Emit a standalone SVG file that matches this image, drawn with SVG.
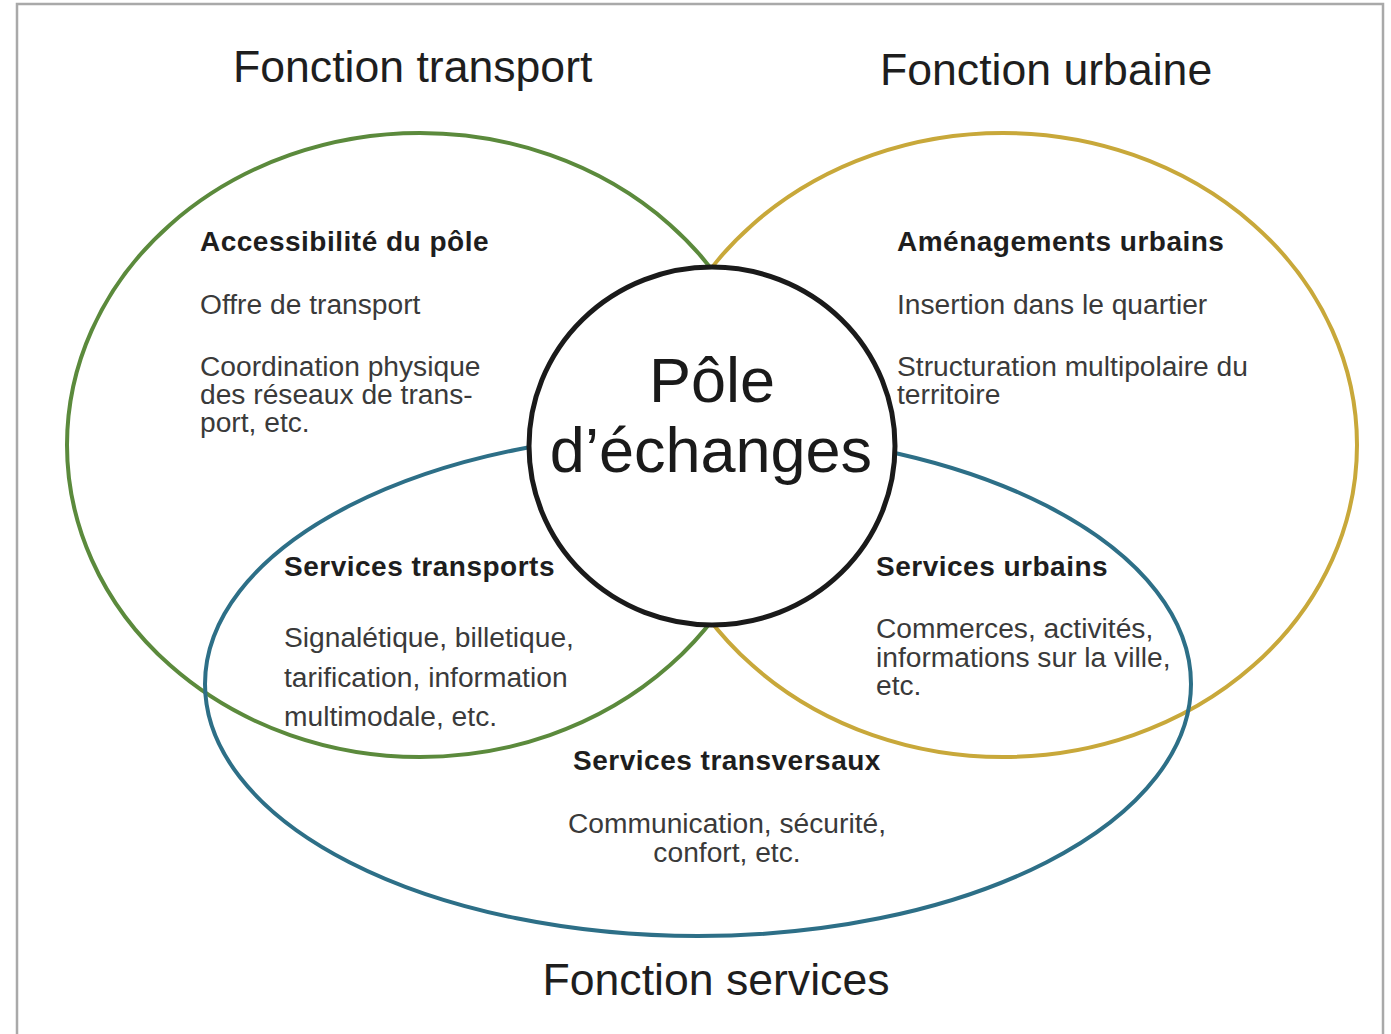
<svg xmlns="http://www.w3.org/2000/svg" width="1391" height="1034" viewBox="0 0 1391 1034">
  <style>
    .frame { fill: #ffffff; stroke: #a9a9a9; stroke-width: 2.5; }
    .set { fill: none; stroke-width: 4; }
    .green { stroke: #5b8a3c; }
    .gold { stroke: #c8a83a; }
    .blue { stroke: #2d6f87; }
    .title { font-family: "Liberation Sans", Arial, sans-serif; font-size: 44.6px; fill: #1e1e1e; }
    .head { font-family: "Liberation Sans", Arial, sans-serif; font-size: 28px; font-weight: bold; fill: #1e1e1e; letter-spacing: 0.5px; }
    .body { font-family: "Liberation Sans", Arial, sans-serif; font-size: 28.2px; fill: #3a3a3a; }
    .pole { font-family: "Liberation Sans", Arial, sans-serif; font-size: 63px; fill: #1a1a1a; }
  </style>
  <rect class="frame" x="17" y="4" width="1366" height="1100"/>

  <g id="sets">
    <ellipse id="set-transport" class="set green" cx="420" cy="445" rx="353" ry="312"/>
    <ellipse id="set-urbaine" class="set gold" cx="1003" cy="445" rx="354" ry="312"/>
    <ellipse id="set-services" class="set blue" cx="698" cy="684" rx="493" ry="252"/>
  </g>

  <g id="connectors"></g>

  <g id="pole">
    <ellipse cx="712" cy="446" rx="183" ry="179" fill="#ffffff" stroke="#1a1a1a" stroke-width="5"/>
    <text class="pole" x="712" y="402" text-anchor="middle">Pôle</text>
    <text class="pole" x="711" y="472" text-anchor="middle">d’échanges</text>
  </g>

  <g id="title-transport">
    <text class="title" x="233" y="82">Fonction transport</text>
  </g>
  <g id="title-urbaine">
    <text class="title" x="880" y="85">Fonction urbaine</text>
  </g>
  <g id="title-services">
    <text class="title" x="716" y="995" text-anchor="middle">Fonction services</text>
  </g>

  <g id="accessibilite">
    <text class="head" x="200" y="251">Accessibilité du pôle</text>
    <text class="body" x="200" y="314">Offre de transport</text>
    <text class="body" x="200" y="376">Coordination physique</text>
    <text class="body" x="200" y="404">des réseaux de trans-</text>
    <text class="body" x="200" y="432">port, etc.</text>
  </g>

  <g id="amenagements">
    <text class="head" x="897" y="251">Aménagements urbains</text>
    <text class="body" x="897" y="314">Insertion dans le quartier</text>
    <text class="body" x="897" y="376">Structuration multipolaire du</text>
    <text class="body" x="897" y="404">territoire</text>
  </g>

  <g id="services-transports">
    <text class="head" x="284" y="576">Services transports</text>
    <text class="body" x="284" y="647">Signalétique, billetique,</text>
    <text class="body" x="284" y="687">tarification, information</text>
    <text class="body" x="284" y="726">multimodale, etc.</text>
  </g>

  <g id="services-urbains">
    <text class="head" x="876" y="576">Services urbains</text>
    <text class="body" x="876" y="638">Commerces, activités,</text>
    <text class="body" x="876" y="667">informations sur la ville,</text>
    <text class="body" x="876" y="695">etc.</text>
  </g>

  <g id="services-transversaux">
    <text class="head" x="727" y="770" text-anchor="middle">Services transversaux</text>
    <text class="body" x="727" y="833" text-anchor="middle">Communication, sécurité,</text>
    <text class="body" x="727" y="862" text-anchor="middle">confort, etc.</text>
  </g>
</svg>
